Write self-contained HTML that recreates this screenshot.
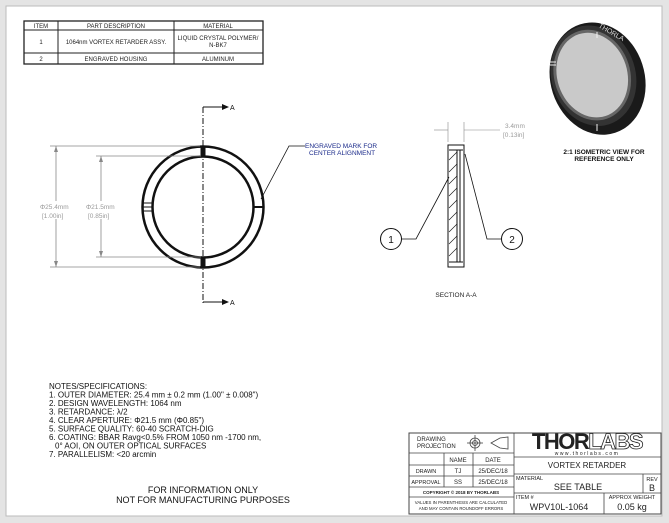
<!DOCTYPE html>
<html><head><meta charset="utf-8"><style>
html,body{margin:0;padding:0;background:#e6e6e6;}
svg{display:block;font-family:"Liberation Sans",sans-serif;}
</style></head><body>
<svg width="669" height="523" viewBox="0 0 669 523" xmlns="http://www.w3.org/2000/svg">
<rect x="0" y="0" width="669" height="523" fill="#e4e4e4"/>
<rect x="6" y="6" width="656" height="510" fill="#fff" stroke="#bbb"/>
<!-- BOM -->
<g stroke="#222" fill="none" stroke-width="1">
<rect x="24" y="21" width="239" height="43" stroke-width="1.3"/>
<line x1="24" y1="30" x2="263" y2="30"/><line x1="24" y1="53" x2="263" y2="53"/>
<line x1="58" y1="21" x2="58" y2="64"/><line x1="174" y1="21" x2="174" y2="64"/>
</g>
<g font-size="6" fill="#222" text-anchor="middle">
<text x="41" y="28">ITEM</text><text x="116" y="28">PART DESCRIPTION</text><text x="218" y="28">MATERIAL</text>
<text x="41" y="44">1</text><text x="116" y="44">1064nm VORTEX RETARDER ASSY.</text>
<text x="218" y="40">LIQUID CRYSTAL POLYMER/</text><text x="218" y="47">N-BK7</text>
<text x="41" y="61">2</text><text x="116" y="61">ENGRAVED HOUSING</text><text x="218" y="61">ALUMINUM</text>
</g>
<!-- front view -->
<g stroke="#111" fill="none">
<circle cx="203" cy="207" r="60.5" stroke-width="2.5"/>
<circle cx="203" cy="207" r="50.5" stroke-width="2.5"/>
<line x1="203" y1="107" x2="203" y2="303" stroke-width="1" stroke-dasharray="6,2,1,2"/>
<line x1="203" y1="107" x2="222" y2="107"/><line x1="203" y1="302" x2="222" y2="302"/>
<rect x="201" y="146" width="4" height="10" fill="#111"/>
<rect x="201" y="258" width="4" height="9" fill="#111"/>
<line x1="143" y1="203" x2="153" y2="203"/><line x1="143" y1="207" x2="153" y2="207"/><line x1="143" y1="211" x2="153" y2="211"/>
<line x1="254" y1="207" x2="263" y2="207" stroke-width="2"/>
</g>
<path d="M222 104 L229 107 L222 110Z M222 299 L229 302 L222 305Z" fill="#111"/>
<text x="230" y="110" font-size="7" fill="#111">A</text><text x="230" y="305" font-size="7" fill="#111">A</text>
<!-- dims -->
<g stroke="#888" stroke-width="0.8" fill="none">
<line x1="50" y1="146" x2="200" y2="146"/><line x1="50" y1="267" x2="200" y2="267"/>
<line x1="56" y1="146" x2="56" y2="267"/>
<line x1="96" y1="156" x2="201" y2="156"/><line x1="96" y1="257" x2="201" y2="257"/>
<line x1="101" y1="156" x2="101" y2="257"/>
</g>
<path d="M54 152 L56 146 L58 152Z M54 261 L56 267 L58 261Z M99 162 L101 156 L103 162Z M99 251 L101 257 L103 251Z" fill="#888"/>
<rect x="38" y="201" width="34" height="18" fill="#fff"/><rect x="85" y="201" width="32" height="18" fill="#fff"/>
<g font-size="6.5" fill="#999"><text x="40" y="209">Φ25.4mm</text><text x="42" y="218">[1.00in]</text>
<text x="86" y="209">Φ21.5mm</text><text x="88" y="218">[0.85in]</text></g>
<!-- leader -->
<polyline points="261,199 289,146 305,146" stroke="#111" fill="none" stroke-width="0.8"/>
<g font-size="6.5" fill="#1a2a8a"><text x="305" y="148">ENGRAVED MARK FOR</text><text x="309" y="155">CENTER ALIGNMENT</text></g>
<!-- section -->
<g stroke="#111" fill="none" stroke-width="1">
<rect x="448" y="145" width="16" height="122"/>
<line x1="449" y1="150" x2="463" y2="150"/><line x1="449" y1="262" x2="463" y2="262"/>
<line x1="457" y1="150" x2="457" y2="262"/><line x1="460" y1="150" x2="460" y2="262"/>
<path d="M449 160 L457 152 M449 172 L457 164 M449 184 L457 176 M449 196 L457 188 M449 208 L457 200 M449 220 L457 212 M449 232 L457 224 M449 244 L457 236 M449 256 L457 248" stroke-width="0.6"/>
<line x1="448" y1="122" x2="448" y2="142" stroke="#888" stroke-width="0.6"/><line x1="464" y1="122" x2="464" y2="142" stroke="#888" stroke-width="0.6"/>
<line x1="434" y1="130" x2="448" y2="130" stroke="#888" stroke-width="0.6"/><line x1="464" y1="130" x2="500" y2="130" stroke="#888" stroke-width="0.6"/>
<circle cx="391" cy="239" r="10.5"/><circle cx="512" cy="239" r="10.5"/>
<polyline points="401,239 416,239 449,177" stroke-width="0.8"/>
<polyline points="501,239 487,239 465,154" stroke-width="0.8"/>
</g>
<g font-size="6.5" fill="#999"><text x="505" y="128">3.4mm</text><text x="503" y="137">[0.13in]</text></g>
<text x="391" y="243" font-size="10" text-anchor="middle" fill="#111">1</text>
<text x="512" y="243" font-size="10" text-anchor="middle" fill="#111">2</text>
<text x="456" y="297" font-size="6.5" text-anchor="middle" fill="#222">SECTION A-A</text>
<!-- iso -->
<g transform="translate(596,77) rotate(-18)">
<ellipse cx="1" cy="2" rx="47" ry="57" fill="#1a1a1a"/>
<ellipse cx="-2" cy="-2" rx="42" ry="51" fill="#333"/>
<ellipse cx="-3" cy="-3" rx="38" ry="46" fill="#666"/>
<ellipse cx="-3" cy="-3" rx="35" ry="43" fill="#c9c9c9"/>
</g>
<text x="598" y="27" font-size="7" fill="#ddd" transform="rotate(30 598 27)">THORLA</text>
<line x1="597" y1="32" x2="597" y2="38" stroke="#eee"/><line x1="597" y1="124" x2="597" y2="131" stroke="#eee"/>
<line x1="550" y1="62" x2="556" y2="62" stroke="#eee"/><line x1="550" y1="65" x2="556" y2="65" stroke="#eee"/>
<g font-size="6.5" fill="#111" text-anchor="middle" font-weight="bold"><text x="604" y="154">2:1 ISOMETRIC VIEW FOR</text><text x="604" y="161">REFERENCE ONLY</text></g>
<!-- notes -->
<g font-size="8" fill="#111">
<text x="49" y="389">NOTES/SPECIFICATIONS:</text>
<text x="49" y="397.5">1. OUTER DIAMETER: 25.4 mm ± 0.2 mm (1.00" ± 0.008")</text>
<text x="49" y="406">2. DESIGN WAVELENGTH: 1064 nm</text>
<text x="49" y="414.5">3. RETARDANCE: λ/2</text>
<text x="49" y="423">4. CLEAR APERTURE: Φ21.5 mm (Φ0.85")</text>
<text x="49" y="431.5">5. SURFACE QUALITY: 60-40 SCRATCH-DIG</text>
<text x="49" y="440">6. COATING: BBAR Ravg&lt;0.5% FROM 1050 nm -1700 nm,</text>
<text x="55" y="448.5">0° AOI, ON OUTER OPTICAL SURFACES</text>
<text x="49" y="457">7. PARALLELISM: &lt;20 arcmin</text>
</g>
<g font-size="9" fill="#111" text-anchor="middle"><text x="203" y="493">FOR INFORMATION ONLY</text><text x="203" y="503">NOT FOR MANUFACTURING PURPOSES</text></g>
<!-- title block -->
<g stroke="#444" fill="none" stroke-width="0.8">
<rect x="409" y="433" width="252" height="81" stroke-width="1"/>
<line x1="514" y1="433" x2="514" y2="514"/>
<line x1="409" y1="453" x2="514" y2="453"/><line x1="409" y1="465" x2="514" y2="465"/><line x1="409" y1="476" x2="514" y2="476"/><line x1="409" y1="487" x2="514" y2="487"/><line x1="409" y1="497" x2="514" y2="497"/>
<line x1="444" y1="453" x2="444" y2="487"/><line x1="473" y1="453" x2="473" y2="487"/>
<line x1="514" y1="457" x2="661" y2="457"/><line x1="514" y1="474" x2="661" y2="474"/><line x1="514" y1="493" x2="661" y2="493"/>
<line x1="643" y1="474" x2="643" y2="493"/><line x1="604" y1="493" x2="604" y2="514"/>
<circle cx="475" cy="443" r="5"/><circle cx="475" cy="443" r="2.5"/>
<line x1="467" y1="443" x2="483" y2="443"/><line x1="475" y1="435" x2="475" y2="451"/>
<path d="M491 443 L500 438 L508 437 L508 449 L500 448 Z"/>
</g>
<g fill="#222" font-size="6">
<text x="417" y="441">DRAWING</text><text x="417" y="448">PROJECTION</text>
<text x="458" y="462" text-anchor="middle">NAME</text><text x="493" y="462" text-anchor="middle">DATE</text>
<text x="426" y="473" text-anchor="middle" font-size="5.5">DRAWN</text><text x="458" y="473" text-anchor="middle">TJ</text><text x="493" y="473" text-anchor="middle">25/DEC/18</text>
<text x="426" y="484" text-anchor="middle" font-size="5.5">APPROVAL</text><text x="458" y="484" text-anchor="middle">SS</text><text x="493" y="484" text-anchor="middle">25/DEC/18</text>
<text x="461" y="494" text-anchor="middle" font-size="4.5" font-weight="bold">COPYRIGHT © 2018 BY THORLABS</text>
<text x="461" y="504" text-anchor="middle" font-size="4.3">VALUES IN PARENTHESIS ARE CALCULATED</text>
<text x="461" y="510" text-anchor="middle" font-size="4.3">AND MAY CONTAIN ROUNDOFF ERRORS</text>
<text x="587" y="449" text-anchor="middle" font-size="22" font-weight="bold" letter-spacing="-1.5">THOR<tspan fill="#fff" stroke="#222" stroke-width="0.8">LABS</tspan></text>
<text x="587" y="455" text-anchor="middle" font-size="5" letter-spacing="1.5">www.thorlabs.com</text>
<text x="587" y="468" text-anchor="middle" font-size="8">VORTEX RETARDER</text>
<text x="516" y="480" font-size="5.5">MATERIAL</text><text x="578" y="490" text-anchor="middle" font-size="9">SEE TABLE</text>
<text x="652" y="481" text-anchor="middle" font-size="5.5">REV</text><text x="652" y="491" text-anchor="middle" font-size="9">B</text>
<text x="516" y="499" font-size="5.5">ITEM #</text><text x="559" y="510" text-anchor="middle" font-size="9">WPV10L-1064</text>
<text x="632" y="499" text-anchor="middle" font-size="5.5">APPROX WEIGHT</text><text x="632" y="510" text-anchor="middle" font-size="9">0.05 kg</text>
</g>
</svg>
</body></html>
